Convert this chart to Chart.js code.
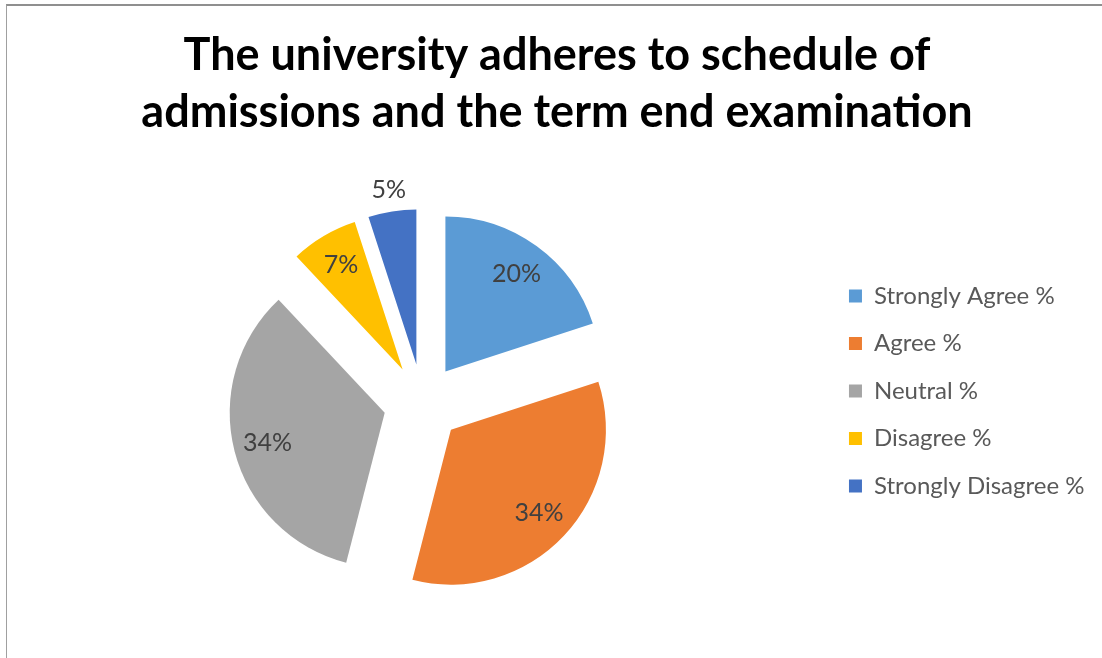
<!DOCTYPE html>
<html lang="en">
<head>
<meta charset="UTF-8">
<title>University adheres to schedule</title>
<script src="https://cdn.jsdelivr.net/npm/chart.js"></script>
<style>
  html, body { margin: 0; padding: 0; background: #fff; overflow: hidden; }
  .frame { position: relative; width: 1102px; height: 658px; }
  .frame::before {
    content: ''; position: absolute; left: 6px; top: 4px; right: 0; bottom: 0;
    border-left: 1px solid #a0a0a0; border-top: 2px solid #8f8f8f;
  }
  canvas { position: absolute; left: 0; top: 0; }
</style>
</head>
<body>
<div class="frame"><canvas id="pie" width="1102" height="658"></canvas></div>
<script>
const titleLines = ['The university adheres to schedule of', 'admissions and the term end examination'];
const categories = ['Strongly Agree %', 'Agree %', 'Neutral %', 'Disagree %', 'Strongly Disagree %'];
const percentages = [20, 34, 34, 7, 5];
const colours = ['#5B9BD5', '#ED7D31', '#A5A5A5', '#FFC000', '#4472C4'];

const EXPLODE = 39; // how far every slice is pulled out, px

// draw each arc shifted outwards along its middle angle (exploded pie)
const explodePlugin = {
  id: 'explode',
  beforeDatasetDraw(chart, args) {
    const ctx = chart.ctx;
    args.meta.data.forEach(arc => {
      const mid = (arc.startAngle + arc.endAngle) / 2;
      ctx.save();
      ctx.translate(Math.cos(mid) * EXPLODE, Math.sin(mid) * EXPLODE);
      arc.draw(ctx);
      ctx.restore();
    });
    return false;
  }
};

// percentage labels, small slices get theirs outside
const labelPlugin = {
  id: 'sliceLabels',
  afterDatasetsDraw(chart) {
    const ctx = chart.ctx;
    const meta = chart.getDatasetMeta(0);
    ctx.save();
    ctx.font = '25px Lato';
    ctx.fillStyle = '#404040';
    ctx.textAlign = 'center';
    ctx.textBaseline = 'middle';
    meta.data.forEach((arc, i) => {
      const mid = (arc.startAngle + arc.endAngle) / 2;
      const k = percentages[i] < 6 ? 1.14 : 0.78;
      const dist = EXPLODE + k * arc.outerRadius;
      ctx.fillText(percentages[i] + '%', arc.x + Math.cos(mid) * dist, arc.y + Math.sin(mid) * dist);
    });
    ctx.restore();
  }
};

new Chart(document.getElementById('pie'), {
  type: 'pie',
  data: {
    labels: categories,
    datasets: [{
      data: percentages,
      backgroundColor: colours,
      borderWidth: 0,
      radius: 155
    }]
  },
  options: {
    responsive: false,
    animation: false,
    events: [],
    layout: { padding: { left: 19.5, right: 7.5, top: 0, bottom: 20 } },
    plugins: {
      title: {
        display: true,
        text: titleLines,
        color: '#000',
        font: { family: 'Lato', size: 45, weight: 'bold', lineHeight: 1.267 },
        padding: { top: 26.5, bottom: 27.5 }
      },
      legend: {
        position: 'right',
        align: 'start',
        // blank legend title only used as a spacer above the items
        title: { display: true, text: ' ', font: { size: 10 }, padding: { top: 248.5, bottom: 0 } },
        labels: {
          boxWidth: 13,
          boxHeight: 13,
          padding: 23.5,
          color: '#595959',
          font: { family: 'Lato', size: 24 }
        }
      },
      tooltip: { enabled: false }
    }
  },
  plugins: [explodePlugin, labelPlugin]
});
</script>
</body>
</html>
